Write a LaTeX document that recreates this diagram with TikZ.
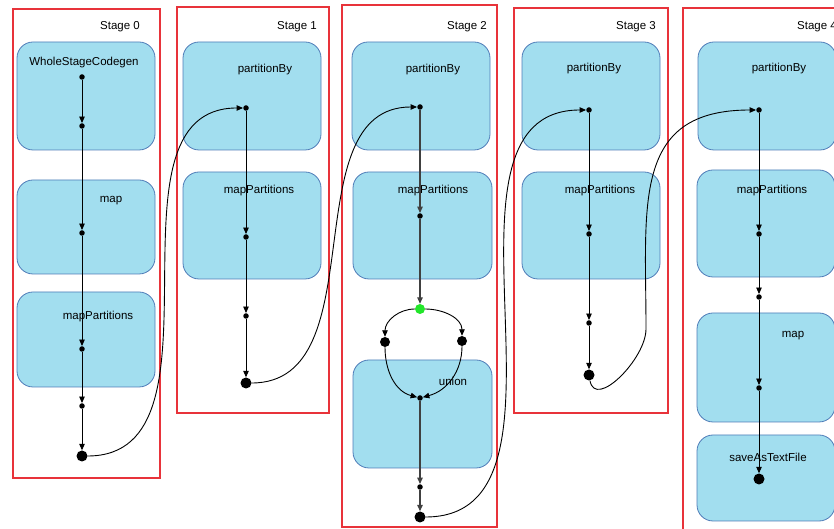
\documentclass[tikz,border=0pt]{standalone}
\usepackage{fontspec}
\setmainfont{Liberation Sans}
\usetikzlibrary{arrows.meta}

\definecolor{framered}{HTML}{E8333A}
\definecolor{boxfill}{HTML}{A2DEEF}
\definecolor{boxline}{HTML}{4F7CB8}
\definecolor{dotgreen}{HTML}{22E62A}

\tikzstyle{stage}=[draw=framered, line width=1.4pt]
\tikzstyle{op}=[draw=boxline, fill=boxfill, rounded corners=16pt, line width=0.8pt]
\tikzstyle{dot}=[circle, fill=black, inner sep=0pt, minimum size=5.5pt]
\tikzstyle{bigdot}=[circle, fill=black, inner sep=0pt, minimum size=11pt]
\tikzstyle{flow}=[-{Triangle[length=6.5pt,width=5.5pt]}, line width=0.9pt]

\begin{document}
\begin{tikzpicture}[x=1pt, y=1pt, font=\fontsize{11.5}{13}\selectfont]
\useasboundingbox (0,0) rectangle (834,529);
\clip (0,0) rectangle (834,529);

% stage frames
\draw[stage] (13,51) rectangle (160,520);
\draw[stage] (177,116) rectangle (329,522);
\draw[stage] (342,2) rectangle (497,524);
\draw[stage] (514,116) rectangle (668,521);
\draw[stage] (683,-10) rectangle (860,521);

\node (st0) at (120,502) {Stage 0};
\node (st1) at (297,502) {Stage 1};
\node (st2) at (467,502) {Stage 2};
\node (st3) at (636,502) {Stage 3};
\node[anchor=west, inner sep=0pt] (st4) at (797,502) {Stage 4};

% operator boxes
\draw[op] (17,379) rectangle (155,487);
\draw[op] (17,255) rectangle (155,349);
\draw[op] (17,142) rectangle (155,237);

\draw[op] (183,379) rectangle (321,487);
\draw[op] (183,250) rectangle (321,357);

\draw[op] (352,379) rectangle (490,487);
\draw[op] (353,250) rectangle (492,357);
\draw[op] (353,61) rectangle (492,169);

\draw[op] (522,379) rectangle (660,487);
\draw[op] (522,250) rectangle (660,357);

\draw[op] (698,379) rectangle (836,487);
\draw[op] (697,252) rectangle (835,359);
\draw[op] (697,107) rectangle (835,216);
\draw[op] (697,8) rectangle (835,94);

\node (l0a) at (84,466) {WholeStageCodegen};
\node (l0b) at (111,328) {map};
\node (l0c) at (98,212) {mapPartitions};
\node (l1a) at (265,459) {partitionBy};
\node (l1b) at (259,338) {mapPartitions};
\node (l2a) at (433,459) {partitionBy};
\node (l2b) at (433,338) {mapPartitions};
\node (l2c) at (453,148) {union};
\node (l3a) at (594,460) {partitionBy};
\node (l3b) at (600,338) {mapPartitions};
\node (l4a) at (779,460) {partitionBy};
\node (l4b) at (772,338) {mapPartitions};
\node (l4c) at (793,193) {map};
\node (l4d) at (768,72) {saveAsTextFile};

% dots
\node[dot] (a1) at (82,452) {};
\node[dot] (a2) at (82,403) {};
\node[dot] (a3) at (82,296) {};
\node[dot] (a4) at (82,180) {};
\node[dot] (a5) at (82,123) {};
\node[bigdot] (a6) at (82,73) {};

\node[dot] (b1) at (246,421) {};
\node[dot] (b2) at (246,292) {};
\node[dot] (b3) at (246,213) {};
\node[bigdot] (b4) at (246,146) {};

\node[dot] (c1) at (420,422) {};
\node[dot] (c2) at (420,313) {};
\node[circle, fill=dotgreen, inner sep=0pt, minimum size=10pt] (c3) at (420,220) {};
\node[dot, minimum size=10pt] (c4) at (385,187) {};
\node[dot, minimum size=10pt] (c5) at (462,188) {};
\node[dot] (c6) at (420,131) {};
\node[dot] (c7) at (420,42) {};
\node[bigdot] (c8) at (420,12) {};

\node[dot] (d1) at (589,419) {};
\node[dot] (d2) at (589,295) {};
\node[dot] (d3) at (589,206) {};
\node[bigdot] (d4) at (589,154) {};

\node[dot] (e1) at (759,419) {};
\node[dot] (e2) at (759,295) {};
\node[dot] (e3) at (759,232) {};
\node[dot] (e4) at (759,141) {};
\node[bigdot] (e5) at (759,50) {};

\coordinate (turn3) at (646,200);

\begin{scope}[every path/.style={flow}]
       \draw (a1) -- (a2);
       \draw (a2) -- (a3);
       \draw (a3) -- (a4);
       \draw (a4) -- (a5);
       \draw (a5) -- (a6);

       \draw (b1) -- (b2);
       \draw (b2) -- (b3);
       \draw (b3) -- (b4);

       \draw[line width=1.3pt, black!75] (c1) -- (c2);
       \draw[line width=1.3pt, black!75] (c2) -- (c3);
       \draw (c3) to[out=180, in=90] (c4);
       \draw (c3) to[out=0, in=90] (c5);
       \draw (c4) to[out=-90, in=165] (c6);
       \draw (c5) to[out=-90, in=15] (c6);
       \draw[line width=1.3pt, black!75] (c6) -- (c7);
       \draw[line width=1.3pt, black!75] (c7) -- (c8);

       \draw (d1) -- (d2);
       \draw (d2) -- (d3);
       \draw (d3) -- (d4);

       \draw (e1) -- (e2);
       \draw (e2) -- (e3);
       \draw (e3) -- (e4);
       \draw (e4) -- (e5);

       \draw (a6) to[out=0, in=180] (b1);
       \draw (b4) to[out=0, in=180] (c1);
       \draw (c8) to[out=0, in=180] (d1);
       \draw (d4) to[out=-80, in=-90] (turn3) to[out=90, in=180, looseness=1.3] (e1);
\end{scope}
\end{tikzpicture}
\end{document}
